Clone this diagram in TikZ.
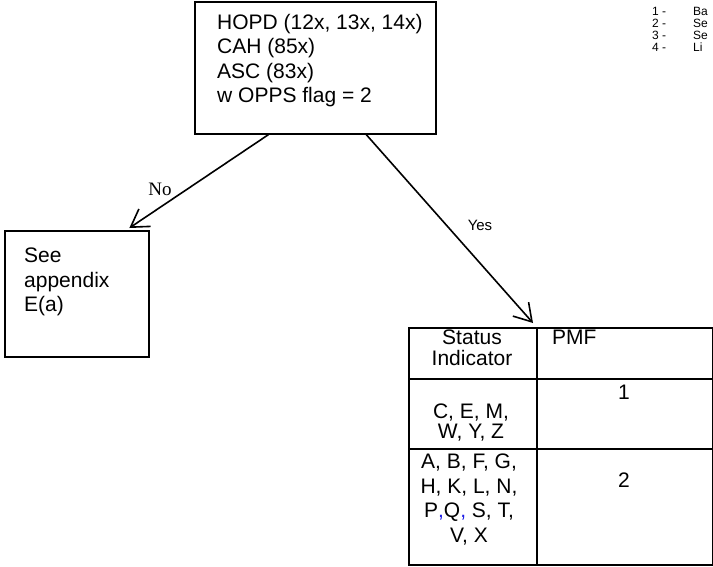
\documentclass[tikz,border=0pt]{standalone}
\usepackage{fontspec}
\setmainfont{Liberation Sans}
\newfontfamily\timesfont{Liberation Serif}
\usetikzlibrary{arrows.meta,calc}
\definecolor{commablue}{RGB}{30,30,230}

\begin{document}
\begin{tikzpicture}[x=1pt,y=-1pt,
  box/.style={draw, line width=1.6pt, inner sep=0pt, anchor=north west},
  cell/.style={draw, line width=2pt, inner sep=0pt, anchor=north west},
  body/.style={font=\fontsize{21}{24.5}\selectfont, inner sep=0pt, align=left, anchor=north west},
  ctext/.style={font=\fontsize{21}{24.5}\selectfont, inner sep=0pt, align=center, anchor=north},
  tight/.style={font=\fontsize{21}{20.5}\selectfont},
  link/.style={line width=1.6pt, -{Straight Barb[length=17pt,width=21pt,line width=1.6pt]}},
  tag/.style={inner sep=0pt},
  legend/.style={font=\fontsize{12}{12}\selectfont, inner sep=0pt, anchor=north west, align=left}
]
\useasboundingbox (0,0) rectangle (713,566);

% decision box
\node[box, minimum width=241pt, minimum height=132pt] (top) at (194,1) {};
\node[body] (topText) at (217,14) {HOPD (12x, 13x, 14x)\\CAH (85x)\\ASC (83x)\\w OPPS flag = 2};

% "No" branch target
\node[box, minimum width=144pt, minimum height=126pt] (appendix) at (4,230) {};
\node[body] (appendixText) at (24,248) {See\\appendix\\E(a)};

% result table
\node[cell, minimum width=128pt, minimum height=51pt] (hStatus) at (408,327) {};
\node[cell, minimum width=176pt, minimum height=51pt] (hPMF) at (536,327) {};
\node[cell, minimum width=128pt, minimum height=70pt] (rowOneStatus) at (408,378) {};
\node[cell, minimum width=176pt, minimum height=70pt] (rowOnePMF) at (536,378) {};
\node[cell, minimum width=128pt, minimum height=116pt] (rowTwoStatus) at (408,448) {};
\node[cell, minimum width=176pt, minimum height=116pt] (rowTwoPMF) at (536,448) {};

\node[ctext, tight] (statusLabel) at (472,330) {Status\\Indicator};
\node[body] (pmfLabel) at (552,330.3) {PMF};
\node[ctext] (pmfOne) at (624,384.5) {1};
\node[ctext, tight] (codesOne) at (471,403.5) {C, E, M,\\W, Y, Z};
\node[ctext] (codesTwo) at (469,454) {A, B, F, G,\\H, K, L, N,\\P{\color{commablue},}Q{\color{commablue},} S, T,\\V, X};
\node[ctext] (pmfTwo) at (624,472.5) {2};

% connectors
\draw[link] ($(top.south west)!0.307!(top.south east)$) -- ($(appendix.north west)!0.861!(appendix.north east)+(0,-2)$);
\draw[link] ($(top.south west)!0.71!(top.south east)$) -- ($(hStatus.north east)+(-5,-4)$);
\node[tag, font=\timesfont\fontsize{19}{19}\selectfont] (noLabel) at (160,189) {No};
\node[tag, font=\fontsize{15}{15}\selectfont] (yesLabel) at (480,225) {Yes};

% key in the upper right corner
\node[legend] (keyNums) at (652,7.5) {1 -\\2 -\\3 -\\4 -};
\node[legend] (keyText) at (693,7.5) {Ba\\Se\\Se\\Li};
\end{tikzpicture}
\end{document}
